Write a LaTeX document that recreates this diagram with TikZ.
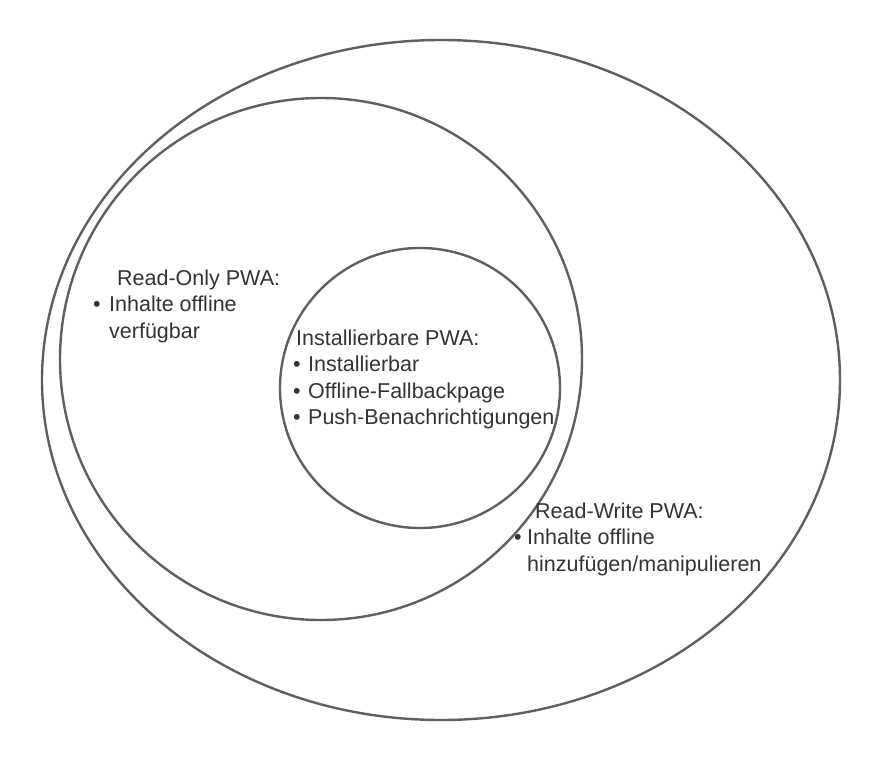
\documentclass[tikz,border=0pt]{standalone}
\usepackage{fontspec}
\setmainfont{Liberation Sans}
\usepackage{xcolor}
\usetikzlibrary{shapes.geometric}

\definecolor{linegray}{HTML}{5F5F5F}
\definecolor{textgray}{HTML}{333333}
\newcommand{\bul}[1][16pt]{\makebox[#1][l]{\textbullet}}

\tikzset{
    ring/.style={draw=linegray, line width=2.4pt, inner sep=0pt, outer sep=0pt},
    label/.style={anchor=base west, inner sep=0pt, align=left, text=textgray,
        font=\fontsize{21.5}{26.5}\selectfont}
}

\begin{document}
\begin{tikzpicture}[x=1pt, y=-1pt]
    \useasboundingbox (0,0) rectangle (880,760);

    % circles
    \node[ring, ellipse, minimum width=798pt, minimum height=680pt] (readwrite) at (441,380) {};
    \node[ring, circle, minimum size=522pt] (readonly) at (321,359) {};
    \node[ring, circle, minimum size=280pt] (install) at (420,388) {};

    % texts (base = last line)
    \node[label] (rotext) at (93,338)
        {\hspace*{24pt}Read-Only PWA:\\ \bul Inhalte offline\\ \hspace*{16pt}verfügbar};
    \node[label] (intext) at (293,424.5)
        {\hspace*{3pt}Installierbare PWA:\\ \bul[15pt]Installierbar\\ \bul[15pt]Offline-Fallbackpage\\ \bul[15pt]Push-Benachrichtigungen};
    \node[label] (rwtext) at (514,571)
        {\hspace*{21pt}Read-Write PWA:\\ \bul[13pt]Inhalte offline\\ \hspace*{13pt}hinzufügen/manipulieren};
\end{tikzpicture}
\end{document}
